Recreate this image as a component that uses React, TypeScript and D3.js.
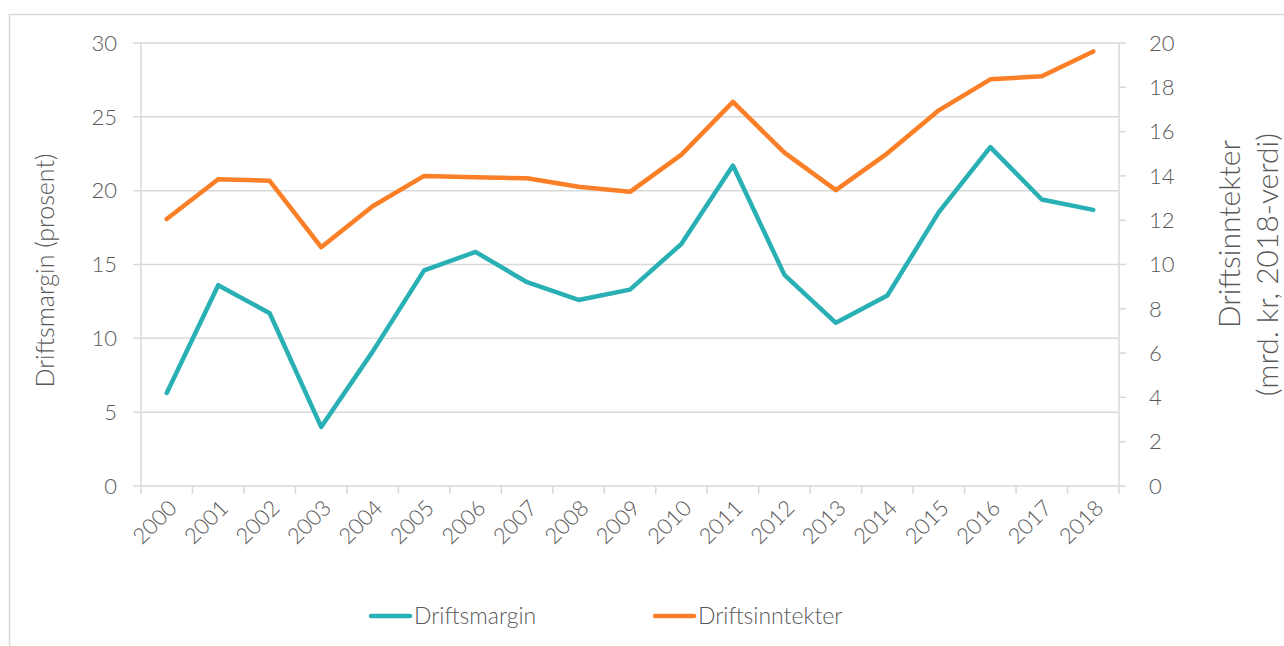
import * as d3 from 'd3'

const years = ['2000', '2001', '2002', '2003', '2004', '2005', '2006', '2007', '2008', '2009',
  '2010', '2011', '2012', '2013', '2014', '2015', '2016', '2017', '2018']
// Driftsmargin (prosent), left axis
const margin = [6.3, 13.6, 11.7, 4.0, 9.1, 14.6, 15.85, 13.8, 12.6, 13.3,
  16.4, 21.7, 14.3, 11.05, 12.9, 18.55, 22.95, 19.4, 18.7]
// Driftsinntekter (mrd. kr, 2018-verdi), right axis
const revenue = [12.05, 13.85, 13.78, 10.78, 12.63, 14.0, 13.94, 13.89, 13.51, 13.28,
  14.96, 17.34, 15.05, 13.36, 15.02, 16.96, 18.36, 18.5, 19.62]
const leftTicks = [0, 5, 10, 15, 20, 25, 30]
const rightTicks = [0, 2, 4, 6, 8, 10, 12, 14, 16, 18, 20]

const W = 1284
const H = 646
const FONT = 'Lato, "Open Sans", sans-serif'
const GRAY = '#595959'
const GRID = '#d9d9d9'
const TEAL = '#29b0b4'
const ORANGE = '#fb7f26'

export default function App() {
  const x0 = 141
  const x1 = 1119
  const yTop = 43
  const yBot = 486

  const x = d3.scaleBand().domain(years).range([x0, x1])
  const yL = d3.scaleLinear().domain([0, 30]).range([yBot, yTop])
  const yR = d3.scaleLinear().domain([0, 20]).range([yBot, yTop])
  const cx = (d: string) => (x(d) as number) + x.bandwidth() / 2

  const lineL = d3.line<number>().x((_, i) => cx(years[i])).y(d => yL(d))
  const lineR = d3.line<number>().x((_, i) => cx(years[i])).y(d => yR(d))

  const boundaries = years.map(y => x(y) as number).concat([x1])

  return (
    <svg width={W} height={H} style={{ position: 'absolute', left: 0, top: 0, background: '#fff' }}
      fontFamily={FONT} fontWeight={300}>
      <rect x={9.5} y={14.5} width={1300} height={700} fill="#fff" stroke={GRID} strokeWidth={1.5} />

      {/* grid */}
      {leftTicks.map(t => (
        <line key={'g' + t} x1={x0 - 8} x2={x1} y1={yL(t)} y2={yL(t)} stroke={GRID} strokeWidth={1.5} />
      ))}
      {/* axis lines */}
      <line x1={x0} x2={x0} y1={yTop} y2={yBot} stroke={GRID} strokeWidth={1.5} />
      <line x1={x1} x2={x1} y1={yTop} y2={yBot} stroke={GRID} strokeWidth={1.5} />
      {rightTicks.map(t => (
        <line key={'rt' + t} x1={x1} x2={x1 + 7} y1={yR(t)} y2={yR(t)} stroke={GRID} strokeWidth={1.5} />
      ))}
      {boundaries.map((b, i) => (
        <line key={'xt' + i} x1={b} x2={b} y1={yBot} y2={yBot + 8} stroke={GRID} strokeWidth={1.5} />
      ))}

      {/* left tick labels */}
      {leftTicks.map(t => (
        <text key={'lt' + t} x={117} y={yL(t)} dy="0.35em" textAnchor="end" fontSize={22} fill={GRAY}>{t}</text>
      ))}
      {/* right tick labels */}
      {rightTicks.map(t => (
        <text key={'rl' + t} x={1149} y={yR(t)} dy="0.35em" textAnchor="start" fontSize={22} fill={GRAY}>{t}</text>
      ))}
      {/* x labels */}
      {years.map(y => (
        <text key={'xl' + y} transform={`translate(${cx(y) + 6},${yBot + 18}) rotate(-45)`}
          textAnchor="end" dy="0.35em" fontSize={22} fill={GRAY}>{y}</text>
      ))}

      {/* axis titles */}
      <text transform={`translate(45,${(yTop + yBot) / 2 + 6}) rotate(-90)`} textAnchor="middle" dy="0.35em"
        fontSize={25} fill={GRAY}>Driftsmargin (prosent)</text>
      <text transform="translate(1229,140) rotate(-90)" textAnchor="end" dy="0.35em"
        fontSize={30} fill={GRAY}>Driftsinntekter</text>
      <text transform="translate(1267,133) rotate(-90)" textAnchor="end" dy="0.35em"
        fontSize={30} fill={GRAY}>(mrd. kr, 2018-verdi)</text>

      {/* series */}
      <path d={lineR(revenue) || ''} fill="none" stroke={ORANGE} strokeWidth={4.5} strokeLinecap="round" strokeLinejoin="round" />
      <path d={lineL(margin) || ''} fill="none" stroke={TEAL} strokeWidth={4.5} strokeLinecap="round" strokeLinejoin="round" />

      {/* legend */}
      <line x1={371} x2={410} y1={616} y2={616} stroke={TEAL} strokeWidth={4.5} strokeLinecap="round" />
      <text x={414} y={616} dy="0.35em" fontSize={23} fill={GRAY}>Driftsmargin</text>
      <line x1={655} x2={694} y1={616} y2={616} stroke={ORANGE} strokeWidth={4.5} strokeLinecap="round" />
      <text x={698} y={616} dy="0.35em" fontSize={23} fill={GRAY}>Driftsinntekter</text>
    </svg>
  )
}
